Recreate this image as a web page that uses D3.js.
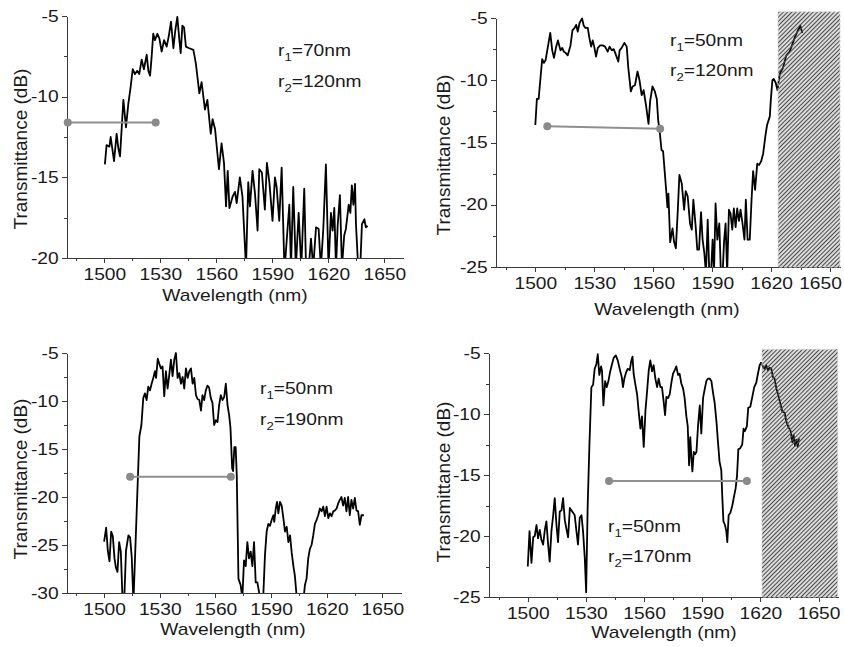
<!DOCTYPE html>
<meta charset="utf-8">
<style>
body { margin: 0; background: #fff; }
svg text { font-family: "Liberation Sans", Arial, sans-serif; fill: #1a1a1a; }
.axis path, .axis line { fill: none; stroke: #3a3a3a; stroke-width: 1px; shape-rendering: crispEdges; }
.trace { fill: none; stroke: #000; stroke-width: 1.8px; stroke-linejoin: round; }
.fwhm { stroke: #8f8f8f; stroke-width: 2px; }
.dot { fill: #8a8a8a; }
</style>
<body>
<svg id="chart" width="844" height="647"></svg>
<script src="https://d3js.org/d3.v7.min.js"></script>
<script>
// tick values
var xMajor = [1500, 1530, 1560, 1590, 1620, 1650];
var xMinor = [1485, 1515, 1545, 1575, 1605, 1635];
var yMajor1 = [-5, -10, -15, -20], yMinor1 = [-7.5, -12.5, -17.5];
var yMajor2 = [-5, -10, -15, -20, -25], yMinor2 = [-7.5, -12.5, -17.5, -22.5];
var yMajor3 = [-5, -10, -15, -20, -25, -30], yMinor3 = [-7.5, -12.5, -17.5, -22.5, -27.5];

// r1=70nm, r2=120nm
var wl1 = [1500.3,1501.2,1502.7,1503.4,1505.2,1506.6,1507.5,1508.4,1510.2,1511.6,1512.8,1514.1,1515.2,1516.4,1517.6,1518.7,1520.0,1521.2,1522.7,1523.6,1524.5,1525.3,1526.2,1527.1,1528.4,1529.5,1530.7,1532.0,1533.4,1534.6,1535.7,1537.0,1538.0,1539.1,1540.2,1540.9,1541.8,1542.7,1543.7,1545.5,1547.7,1548.5,1549.1,1549.5,1550.9,1552.1,1553.9,1555.2,1557.0,1558.0,1559.3,1561.4,1562.8,1564.1,1565.2,1566.1,1567.0,1568.7,1570.0,1570.9,1572.6,1574.0,1575.9,1577.1,1578.0,1579.4,1580.7,1582.1,1583.0,1584.4,1586.0,1587.1,1588.4,1590.1,1591.4,1592.3,1593.7,1595.0,1596.5,1599.1,1600.0,1601.2,1602.6,1604.1,1605.5,1607.1,1608.0,1609.4,1610.7,1611.9,1613.4,1614.8,1616.0,1617.3,1618.7,1620.1,1621.4,1622.3,1623.2,1624.1,1625.0,1626.2,1627.3,1628.5,1629.4,1630.9,1631.8,1632.6,1633.4,1634.3,1634.8,1636.0,1637.1,1638.0,1639.3,1640.1,1641.0];
var tr1 = [-14.2,-13.0,-13.1,-12.5,-14.0,-12.3,-13.2,-13.7,-10.2,-11.9,-10.5,-9.4,-8.3,-8.6,-8.4,-8.6,-7.7,-8.3,-7.4,-8.4,-8.7,-7.6,-6.1,-6.5,-6.1,-6.4,-7.2,-6.5,-6.9,-6.2,-5.35,-7.0,-5.9,-5.05,-6.5,-7.3,-5.6,-5.7,-6.9,-7.0,-7.1,-7.6,-8.0,-8.4,-9.8,-9.1,-10.8,-10.2,-12.3,-11.4,-12.0,-14.5,-12.9,-14.1,-16.8,-14.6,-16.9,-16.2,-15.9,-16.6,-15.0,-16.2,-20.6,-15.3,-16.8,-14.6,-16.0,-18.3,-14.5,-14.7,-17.0,-14.1,-15.3,-17.7,-15.0,-15.6,-17.7,-14.4,-20.8,-16.7,-20.6,-15.6,-20.6,-17.2,-20.6,-15.7,-20.3,-20.8,-18.8,-20.6,-18.1,-18.2,-20.6,-18.2,-14.2,-20.6,-17.2,-18.3,-16.9,-20.6,-18.0,-16.1,-20.6,-18.6,-18.2,-16.7,-17.2,-15.5,-16.7,-15.4,-17.9,-20.6,-20.6,-17.9,-17.6,-18.1,-18.0];

// r1=50nm, r2=120nm
var wl2 = [1500.0,1500.8,1501.7,1502.7,1503.5,1504.4,1505.2,1506.4,1507.6,1508.6,1509.5,1510.6,1511.5,1512.8,1513.7,1514.5,1515.4,1516.5,1517.9,1518.9,1520.0,1520.8,1521.6,1522.5,1523.8,1524.6,1525.5,1526.7,1527.5,1528.4,1529.2,1530.1,1530.9,1531.8,1533.0,1534.3,1535.5,1536.8,1537.8,1538.9,1539.9,1541.1,1542.2,1542.9,1543.9,1545.3,1546.5,1547.3,1548.6,1549.5,1550.7,1552.0,1553.0,1554.1,1555.1,1556.3,1557.6,1558.4,1559.6,1560.8,1561.8,1562.5,1563.2,1564.2,1565.0,1565.9,1566.7,1567.2,1567.7,1568.6,1569.8,1570.6,1571.5,1572.5,1573.3,1574.5,1575.7,1576.5,1577.5,1578.7,1579.6,1580.4,1581.6,1582.4,1583.3,1584.3,1585.1,1586.0,1586.8,1587.7,1588.5,1589.4,1590.2,1590.9,1591.7,1592.6,1593.6,1594.4,1595.3,1596.0,1596.8,1597.6,1598.5,1599.3,1600.2,1601.0,1601.9,1602.7,1603.6,1604.4,1605.4,1606.4,1607.1,1608.0,1609.1,1610.0,1610.8,1611.8,1612.9,1613.9,1614.9,1615.9,1617.1,1617.9,1619.3,1619.8,1620.6,1621.3,1622.3,1623.2,1624.3,1626.0,1627.7,1629.4,1630.8,1631.9,1633.6,1634.8,1635.8];
var tr2 = [-13.6,-11.5,-11.5,-9.7,-8.3,-8.6,-8.4,-7.3,-6.2,-7.6,-8.2,-7.3,-6.8,-7.6,-7.4,-7.7,-7.8,-8.0,-7.2,-6.0,-5.8,-5.55,-6.1,-5.4,-5.03,-5.6,-5.8,-5.8,-6.6,-7.3,-6.8,-7.4,-8.1,-7.4,-7.2,-7.2,-7.3,-7.7,-7.3,-7.6,-7.5,-8.0,-8.5,-7.6,-7.4,-7.0,-7.3,-9.0,-10.9,-10.5,-10.4,-9.3,-10.0,-11.2,-10.8,-12.0,-13.5,-11.7,-10.5,-10.9,-11.5,-13.2,-14.0,-15.6,-15.7,-17.5,-19.1,-20.2,-19.1,-23.0,-21.9,-23.0,-23.5,-20.4,-17.6,-18.3,-20.4,-18.9,-19.3,-21.5,-22.0,-19.6,-21.8,-23.6,-23.6,-20.6,-22.8,-23.9,-25.5,-21.2,-25.5,-25.5,-22.8,-25.5,-19.9,-22.8,-21.5,-25.5,-25.5,-23.0,-21.5,-25.5,-20.4,-20.7,-22.0,-20.3,-21.8,-20.3,-21.3,-20.4,-21.5,-22.8,-19.6,-22.8,-22.8,-19.6,-17.3,-18.8,-16.7,-16.8,-16.5,-15.9,-14.4,-13.6,-12.9,-11.6,-10.0,-9.9,-10.2,-10.8,-9.5,-9.0,-8.0,-7.7,-7.1,-6.6,-6.0,-5.6,-6.2];

// r1=50nm, r2=190nm
var wl3 = [1500.0,1501.1,1502.0,1502.9,1503.8,1504.7,1505.6,1506.3,1507.2,1508.1,1509.0,1509.9,1510.8,1511.8,1513.1,1514.0,1514.9,1515.8,1519.0,1520.1,1521.1,1522.0,1522.9,1523.8,1524.7,1525.6,1526.5,1527.4,1528.0,1528.9,1529.7,1530.6,1531.5,1532.4,1533.3,1534.2,1535.1,1536.0,1536.9,1537.8,1538.7,1539.6,1540.5,1541.4,1542.3,1543.2,1544.1,1545.0,1545.9,1546.8,1547.7,1548.6,1549.5,1550.4,1551.3,1552.2,1553.0,1553.9,1554.8,1555.7,1556.6,1557.5,1558.4,1559.3,1560.2,1561.1,1562.0,1562.9,1563.8,1564.7,1565.6,1566.5,1567.4,1568.1,1569.0,1569.5,1570.2,1570.9,1571.5,1572.4,1573.6,1574.5,1575.4,1576.3,1577.2,1578.1,1579.0,1579.9,1580.8,1581.7,1582.6,1583.5,1584.4,1585.8,1586.7,1587.6,1588.5,1589.4,1590.3,1591.2,1591.7,1592.5,1593.2,1593.9,1594.8,1595.7,1596.6,1597.5,1598.4,1599.3,1600.2,1601.1,1602.0,1602.8,1603.7,1604.6,1607.3,1608.2,1609.1,1610.0,1610.9,1611.8,1612.7,1613.6,1614.5,1615.4,1616.3,1617.2,1618.1,1619.0,1619.9,1620.8,1621.7,1622.6,1623.5,1624.4,1625.3,1626.1,1627.0,1627.9,1628.8,1629.7,1630.6,1631.5,1632.4,1633.3,1634.2,1635.1,1636.0,1636.9,1637.8,1638.7,1640.0];
var tr3 = [-24.65,-23.2,-25.6,-26.7,-23.6,-24.1,-26.4,-27.3,-27.8,-24.7,-25.7,-30.5,-31,-25.6,-24.0,-24.2,-26.3,-31,-13.7,-12.5,-9.7,-9.2,-9.9,-8.5,-8.9,-8.2,-7.6,-6.9,-7.6,-5.6,-6.1,-6.6,-6.4,-9.5,-6.9,-8.7,-7.3,-5.7,-7.4,-5.7,-5.0,-7.6,-7.1,-8.2,-7.5,-8.7,-6.6,-7.6,-6.9,-6.6,-8.2,-7.6,-9.4,-9.8,-9.9,-11.0,-9.4,-9.9,-8.9,-8.4,-8.6,-9.7,-10.2,-12.5,-12.0,-12.2,-10.4,-9.4,-9.9,-9.6,-8.2,-10.4,-11.5,-12.8,-17.0,-17.3,-14.8,-14.8,-17.8,-28.5,-29.2,-30.5,-26.6,-27.2,-24.7,-26.4,-25.7,-27.2,-24.7,-28.9,-28.9,-29.9,-31,-30.2,-26.0,-23.6,-22.8,-23.0,-22.4,-21.9,-22.6,-21.2,-20.5,-21.7,-20.5,-20.9,-22.2,-23.6,-23.1,-24.7,-24.0,-25.8,-27.2,-28.2,-30.2,-31,-31,-29.2,-28.5,-26.4,-25.4,-25.0,-24.0,-22.8,-22.4,-21.9,-21.2,-21.5,-21.0,-22.0,-21.0,-22.2,-21.7,-22.0,-21.5,-21.4,-21.2,-20.7,-20.3,-20.0,-20.9,-20.1,-21.5,-20.0,-21.9,-20.3,-21.2,-20.1,-21.4,-21.5,-22.9,-21.9,-21.9];

// r1=50nm, r2=170nm
var wl4 = [1500.0,1500.9,1501.9,1502.8,1503.6,1504.5,1505.3,1506.2,1507.0,1507.9,1508.8,1509.6,1510.5,1511.3,1512.2,1513.1,1513.9,1514.8,1515.6,1516.5,1517.4,1518.2,1519.1,1519.9,1520.8,1521.7,1522.5,1523.4,1524.2,1525.1,1525.9,1526.8,1527.7,1528.5,1529.4,1530.1,1530.9,1531.8,1532.8,1533.7,1534.5,1535.4,1536.1,1536.9,1537.8,1538.3,1539.0,1539.9,1540.7,1541.6,1542.4,1543.3,1544.3,1545.4,1546.4,1547.4,1548.5,1549.1,1549.8,1550.7,1551.5,1552.6,1553.3,1554.0,1554.6,1555.5,1556.4,1557.2,1558.1,1558.9,1559.8,1560.7,1561.5,1562.4,1563.2,1564.1,1564.9,1565.8,1566.7,1567.5,1568.4,1569.2,1570.1,1570.8,1571.5,1572.3,1573.2,1574.1,1574.9,1575.8,1576.6,1577.5,1578.3,1579.2,1580.1,1580.9,1581.8,1582.5,1583.2,1583.8,1584.4,1584.9,1585.6,1586.3,1587.0,1587.8,1588.7,1589.5,1590.4,1591.2,1592.1,1592.9,1593.8,1594.7,1595.5,1596.4,1597.3,1598.1,1598.9,1599.8,1600.3,1600.9,1601.7,1602.4,1602.9,1603.6,1604.5,1605.5,1606.2,1607.2,1607.9,1608.6,1609.6,1610.6,1611.3,1612.0,1613.0,1613.7,1614.8,1615.8,1616.8,1617.9,1618.7,1619.6,1620.3,1621.3,1622.2,1623.0,1623.9,1624.7,1625.6,1626.5,1627.3,1628.2,1629.1,1630.2,1631.3,1632.5,1633.3,1634.5,1635.6,1636.4,1637.1,1637.8,1638.5,1639.2,1639.9];
var tr4 = [-22.5,-19.6,-22.2,-20.1,-20.0,-19.1,-20.2,-19.5,-20.3,-20.7,-19.5,-18.8,-20.7,-22.1,-19.6,-18.3,-16.9,-19.1,-20.5,-18.0,-17.9,-16.9,-18.7,-19.4,-20.1,-17.7,-17.9,-18.1,-18.3,-19.6,-20.7,-18.5,-18.3,-19.6,-21.8,-24.6,-17.5,-12.5,-7.8,-7.6,-6.3,-5.9,-5.1,-6.8,-6.1,-6.5,-9.3,-7.3,-7.8,-7.3,-6.6,-6.0,-5.4,-5.2,-5.6,-6.3,-7.0,-7.8,-7.1,-6.6,-6.3,-6.4,-5.7,-5.3,-6.7,-7.6,-8.4,-9.8,-11.2,-10.2,-12.7,-9.7,-8.2,-6.4,-5.6,-6.5,-6.0,-7.1,-7.8,-7.1,-7.8,-7.8,-9.0,-10.1,-8.6,-8.7,-8.4,-7.4,-6.7,-6.4,-6.1,-6.8,-6.7,-7.5,-7.9,-8.7,-10.2,-11.0,-14.2,-11.9,-13.6,-14.7,-13.1,-13.3,-13.1,-11.0,-9.3,-11.6,-8.7,-8.0,-7.3,-7.1,-7.1,-7.3,-8.2,-9.1,-10.6,-12.3,-13.9,-14.6,-16.7,-18.8,-19.1,-19.6,-20.5,-18.3,-18.1,-17.5,-16.9,-16.1,-15.1,-12.9,-12.8,-12.5,-11.2,-11.4,-11.0,-9.5,-9.4,-8.6,-7.8,-7.4,-6.7,-6.0,-5.8,-6.1,-6.3,-6.0,-6.4,-6.2,-6.3,-7.0,-7.1,-7.9,-8.4,-9.1,-9.8,-9.9,-10.6,-11.1,-11.4,-12.3,-11.7,-12.6,-12.1,-12.7,-12.0];

// grey width markers (two end points each)
var fwWl1 = [1480.4, 1527.5], fwTr1 = [-11.6, -11.6];
var fwWl2 = [1506.1, 1563.5], fwTr2 = [-13.7, -13.9];
var fwWl3 = [1514.0, 1568.3], fwTr3 = [-17.9, -17.9];
var fwWl4 = [1541.9, 1613.0], fwTr4 = [-15.5, -15.5];

// hatched regions [start, end] x [top, bottom]
var hatchWl2 = [1623.5, 1655], hatchTr2 = [-4.5, -25];
var hatchWl4 = [1620.8, 1659.8], hatchTr4 = [-4.7, -25];

var r1Vals = ["70", "50", "50", "50"];
var r2Vals = ["120", "120", "190", "170"];

var panels = [
  {wl: wl1, tr: tr1, yMaj: yMajor1, yMin: yMinor1, fw: fwWl1, ft: fwTr1, hw: null, ht: null,
   xd: [1480, 1660], xr: [67, 403], yd: [-20, -5], yr: [258, 16],
   ann: [278, 56, 87], xt: [235, 301], yt: [27, 149]},
  {wl: wl2, tr: tr2, yMaj: yMajor2, yMin: yMinor2, fw: fwWl2, ft: fwTr2, hw: hatchWl2, ht: hatchTr2,
   xd: [1480, 1655], xr: [496, 840], yd: [-25, -5], yr: [267, 18],
   ann: [670, 46, 76], xt: [667, 315], yt: [450, 155]},
  {wl: wl3, tr: tr3, yMaj: yMajor3, yMin: yMinor3, fw: fwWl3, ft: fwTr3, hw: null, ht: null,
   xd: [1480, 1660], xr: [67, 401], yd: [-30, -5], yr: [593, 353],
   ann: [260, 394, 425], xt: [233, 635], yt: [27, 479]},
  {wl: wl4, tr: tr4, yMaj: yMajor2, yMin: yMinor2, fw: fwWl4, ft: fwTr4, hw: hatchWl4, ht: hatchTr4,
   xd: [1480, 1660], xr: [489, 838], yd: [-25, -5], yr: [597, 353],
   ann: [608, 532, 562], xt: [664, 638], yt: [450, 482]}
];

var svg = d3.select("#chart");
var defs = svg.append("defs");
var stretch = 1.2;

var pat = defs.append("pattern")
  .attr("id", "hatch")
  .attr("patternUnits", "userSpaceOnUse")
  .attr("width", 3).attr("height", 3)
  .attr("patternTransform", "rotate(45)");
pat.append("line")
  .attr("x1", 1.5).attr("y1", 0).attr("x2", 1.5).attr("y2", 3)
  .attr("stroke", "#4a4a4a").attr("stroke-width", 1.4);

panels.forEach(function(p, i) {
  var x = d3.scaleLinear().domain(p.xd).range(p.xr);
  var y = d3.scaleLinear().domain(p.yd).range(p.yr);
  var g = svg.append("g");

  defs.append("clipPath").attr("id", "clip" + i)
    .append("rect")
    .attr("x", p.xr[0]).attr("y", p.yr[1] - 12)
    .attr("width", p.xr[1] - p.xr[0]).attr("height", p.yr[0] - p.yr[1] + 12);

  // x axis: minor then major ticks
  g.append("g").attr("class", "axis")
    .attr("transform", "translate(0," + p.yr[0] + ")")
    .call(d3.axisBottom(x).tickValues(xMinor).tickSize(3).tickSizeOuter(0).tickFormat(""));
  var xa = g.append("g").attr("class", "axis")
    .attr("transform", "translate(0," + p.yr[0] + ")")
    .call(d3.axisBottom(x).tickValues(xMajor).tickSize(5).tickSizeOuter(0).tickPadding(6)
      .tickFormat(function(d) { return String(d); }));
  xa.selectAll("text")
    .attr("font-size", 16).attr("font-family", null)
    .attr("transform", "scale(" + stretch + ",1)");
  // keep the last label inside the picture
  xa.selectAll("text").each(function() {
    var b = this.getBoundingClientRect();
    if (b.right > 842) d3.select(this).attr("x", -(b.right - 842) / stretch);
  });

  // y axis
  g.append("g").attr("class", "axis")
    .attr("transform", "translate(" + p.xr[0] + ",0)")
    .call(d3.axisLeft(y).tickValues(p.yMin).tickSize(3).tickSizeOuter(0).tickFormat(""));
  var ya = g.append("g").attr("class", "axis")
    .attr("transform", "translate(" + p.xr[0] + ",0)")
    .call(d3.axisLeft(y).tickValues(p.yMaj).tickSize(5).tickSizeOuter(0).tickPadding(2)
      .tickFormat(function(d) { return String(d); }));
  ya.selectAll("text")
    .attr("font-size", 16).attr("font-family", null)
    .attr("transform", "scale(" + stretch + ",1)");

  // spectrum
  var line = d3.line()
    .x(function(d, k) { return x(p.wl[k]); })
    .y(function(d, k) { return y(p.tr[k]); });
  g.append("path")
    .attr("class", "trace")
    .attr("clip-path", "url(#clip" + i + ")")
    .attr("d", line(p.tr));

  // grey bandwidth marker
  g.append("line").attr("class", "fwhm")
    .attr("x1", x(p.fw[0])).attr("y1", y(p.ft[0]))
    .attr("x2", x(p.fw[1])).attr("y2", y(p.ft[1]));
  g.selectAll(".dot").data(p.fw).enter().append("circle")
    .attr("class", "dot")
    .attr("cx", function(d) { return x(d); })
    .attr("cy", function(d, k) { return y(p.ft[k]); })
    .attr("r", 4);

  // hatched out-of-range region
  if (p.hw) {
    g.append("rect")
      .attr("x", x(p.hw[0])).attr("y", y(p.ht[0]))
      .attr("width", x(p.hw[1]) - x(p.hw[0]))
      .attr("height", y(p.ht[1]) - y(p.ht[0]))
      .attr("fill", "url(#hatch)")
      .attr("stroke", "#d0d0d0").attr("stroke-dasharray", "3,2");
  }

  // labels
  [[r1Vals[i], "1", p.ann[1]], [r2Vals[i], "2", p.ann[2]]].forEach(function(a) {
    var t = g.append("text")
      .attr("transform", "translate(" + p.ann[0] + "," + a[2] + ") scale(" + stretch + ",1)")
      .attr("font-size", 16);
    t.append("tspan").text("r");
    t.append("tspan").attr("font-size", 11).attr("dy", 5).text(a[1]);
    t.append("tspan").attr("dy", -5).text("=" + a[0] + "nm");
  });

  g.append("text")
    .attr("transform", "translate(" + p.xt[0] + "," + p.xt[1] + ") scale(" + stretch + ",1)")
    .attr("text-anchor", "middle").attr("font-size", 16)
    .text("Wavelength (nm)");

  g.append("text")
    .attr("transform", "translate(" + p.yt[0] + "," + p.yt[1] + ") rotate(-90)")
    .attr("text-anchor", "middle").attr("font-size", 19)
    .text("Transmittance (dB)");
});
</script>
</body>
